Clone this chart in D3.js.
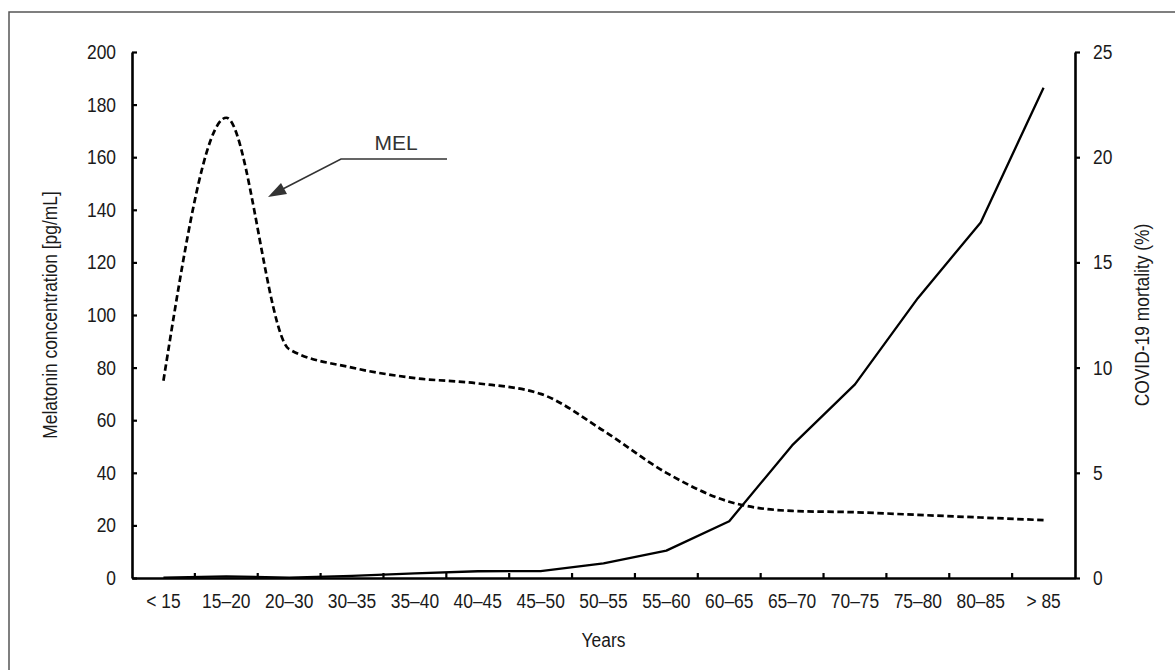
<!DOCTYPE html>
<html>
<head>
<meta charset="utf-8">
<script src="https://cdn.jsdelivr.net/npm/d3@7"></script>
<style>
  html, body { margin: 0; padding: 0; background: #fff; }
  svg { display: block; }
</style>
</head>
<body>
<svg id="chart" width="1175" height="670"></svg>
<script>
const categories = ["< 15", "15\u201320", "20\u201330", "30\u201335", "35\u201340", "40\u201345", "45\u201350", "50\u201355", "55\u201360", "60\u201365", "65\u201370", "70\u201375", "75\u201380", "80\u201385", "> 85"];
const melatonin = [75, 175, 87, 80, 76, 74, 70, 56, 40, 29, 25.5, 25, 24, 23, 22];
const mortality = [0.02, 0.08, 0.02, 0.1, 0.22, 0.32, 0.33, 0.7, 1.3, 2.7, 6.3, 9.2, 13.3, 16.9, 23.3];
const leftTicks = [0, 20, 40, 60, 80, 100, 120, 140, 160, 180, 200];
const rightTicks = [0, 5, 10, 15, 20, 25];

const svg = d3.select("#chart");
const pLeft = 132, pRight = 1075, pTop = 52, pBottom = 578;
const font = '"Liberation Sans", Arial, Helvetica, sans-serif';
const fs = 20, sx = 0.87;   // condensed look
const txtCol = "#1a1a1a";

// frame (cropped: only top and left edges visible)
svg.append("rect").attr("x", 9).attr("y", 12).attr("width", 1300).attr("height", 800)
  .attr("fill", "none").attr("stroke", "#555").attr("stroke-width", 1.5);

const x = d3.scaleBand().domain(categories).range([pLeft, pRight]).paddingInner(0).paddingOuter(0);
const cx = d => x(d) + x.bandwidth() / 2;
const yL = d3.scaleLinear().domain([0, 200]).range([pBottom, pTop]);
const yR = d3.scaleLinear().domain([0, 25]).range([pBottom, pTop]);

function condense(sel) {
  sel.each(function () {
    const t = d3.select(this);
    const x0 = +(t.attr("x") || 0);
    t.attr("x", x0 / sx).attr("transform", `scale(${sx},1)`);
  });
}

const gL = svg.append("g").attr("transform", `translate(${pLeft},0)`)
  .call(d3.axisLeft(yL).tickValues(leftTicks).tickSizeInner(-5).tickSizeOuter(0).tickPadding(16));
const gR = svg.append("g").attr("transform", `translate(${pRight},0)`)
  .call(d3.axisRight(yR).tickValues(rightTicks).tickSizeInner(5).tickSizeOuter(0).tickPadding(13));
const gB = svg.append("g").attr("transform", `translate(0,${pBottom})`)
  .call(d3.axisBottom(x).tickSize(0).tickSizeOuter(0).tickPadding(16));

[gL, gR, gB].forEach(g => {
  g.attr("font-family", font).attr("font-size", fs);
  g.select(".domain").attr("stroke", "#000").attr("stroke-width", 2.6);
  g.selectAll(".tick line").attr("stroke", "#000").attr("stroke-width", 2.2);
  g.selectAll(".tick text").attr("fill", txtCol).call(condense);
});

// x ticks at band boundaries, pointing up
svg.append("g").selectAll("line").data(categories.slice(1)).join("line")
  .attr("x1", d => x(d)).attr("x2", d => x(d))
  .attr("y1", pBottom).attr("y2", pBottom - 5)
  .attr("stroke", "#000").attr("stroke-width", 2.2);

// melatonin dashed smooth line
const melLine = d3.line().x((d, i) => cx(categories[i])).y(d => yL(d)).curve(d3.curveMonotoneX);
svg.append("path").datum(melatonin).attr("d", melLine)
  .attr("fill", "none").attr("stroke", "#000").attr("stroke-width", 2.7)
  .attr("stroke-dasharray", "6.5,3.5");

// mortality solid line
const mortLine = d3.line().x((d, i) => cx(categories[i])).y(d => yR(d));
svg.append("path").datum(mortality).attr("d", mortLine)
  .attr("fill", "none").attr("stroke", "#000").attr("stroke-width", 2.3)
  .attr("stroke-linejoin", "round");

// axis titles
svg.append("text").attr("transform", `translate(${(pLeft + pRight) / 2},647) scale(${sx},1)`)
  .attr("text-anchor", "middle").attr("font-family", font).attr("font-size", fs)
  .attr("fill", txtCol).text("Years");
svg.append("text")
  .attr("transform", `translate(57,${(pTop + pBottom) / 2}) rotate(-90) scale(${sx},1)`)
  .attr("text-anchor", "middle").attr("font-family", font).attr("font-size", fs)
  .attr("fill", txtCol).text("Melatonin concentration [pg/mL]");
svg.append("text")
  .attr("transform", `translate(1149,${(pTop + pBottom) / 2}) rotate(-90) scale(${sx},1)`)
  .attr("text-anchor", "middle").attr("font-family", font).attr("font-size", fs)
  .attr("fill", txtCol).text("COVID-19 mortality (%)");

// MEL annotation
svg.append("path")
  .attr("d", `M447,159 L341,159 L275,193`)
  .attr("fill", "none").attr("stroke", "#333").attr("stroke-width", 1.6);
svg.append("path").attr("d", "M268,197 L281,183 L287,194 Z").attr("fill", "#333");
svg.append("text").attr("x", 396).attr("y", 150).attr("text-anchor", "middle")
  .attr("font-family", font).attr("font-size", 21)
  .attr("fill", "#333").text("MEL");
</script>
</body>
</html>
